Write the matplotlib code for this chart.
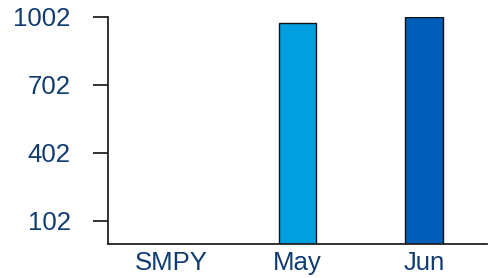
import matplotlib
matplotlib.use("Agg")
from matplotlib import pyplot as plt

# chart data
categories = ["SMPY", "May", "Jun"]
values = [2, 973, 1000]
bar_colors = ["#009FDF", "#009FDF", "#005EB8"]
y_ticks = [102, 402, 702, 1002]

text_color = "#103C72"

plt.rcParams['font.family'] = ['Liberation Sans', 'DejaVu Sans']

fig = plt.figure(figsize=(4.9, 2.78), dpi=100)
ax = fig.add_axes([0.2204, 0.1223, 0.7735, 0.8177])

x = list(range(len(categories)))
ax.bar(x, values, width=0.3, color=bar_colors, edgecolor="#111111", linewidth=1.0, zorder=2)

ax.set_xlim(-0.5, 2.5)
ax.set_ylim(0, 1002)
ax.set_yticks(y_ticks)
ax.set_yticklabels([str(t) for t in y_ticks])
ax.set_xticks(x)
ax.set_xticklabels(categories)

for side in ["top", "right"]:
    ax.spines[side].set_visible(False)
for side in ["left", "bottom"]:
    ax.spines[side].set_color("#222222")
    ax.spines[side].set_linewidth(1.3)

ax.tick_params(axis="y", length=10.8, width=1.3, color="#222222", pad=16,
               labelsize=18.5, labelcolor=text_color)
ax.tick_params(axis="x", length=0, pad=5, labelsize=18.5, labelcolor=text_color)

fig.savefig("out.png", dpi=100)
